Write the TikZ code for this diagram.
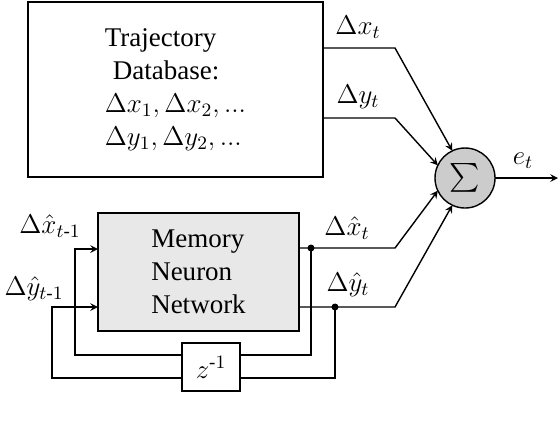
\documentclass[tikz,border=0pt]{standalone}
\usepackage{fix-cm}
\usepackage{amsmath}
\usepackage{fontspec}
\setmainfont{Liberation Serif}
\usetikzlibrary{arrows}
\usetikzlibrary{shapes}

\begin{document}
\begin{tikzpicture}[x=0.5pt, y=-0.5pt, >=stealth, line width=0.7pt,
    font=\fontsize{13.5}{16.5}\selectfont, lbl/.style={inner sep=0.5pt}]
    \useasboundingbox (0,0) rectangle (560,420);

    \node [draw, inner sep=0pt, outer sep=0pt, minimum width=147.5pt, minimum height=87.5pt, align=left] (traj) at (175.5,89.5)
        {Trajectory\\ \hspace*{4pt}Database:\\ $\Delta x_1, \Delta x_2, ...$\\ $\Delta y_1, \Delta y_2, ...$};
    \node [draw, fill=black!9, inner sep=0pt, outer sep=0pt, minimum width=100.5pt, minimum height=59pt, align=left] (mnn) at (198.5,272)
        {Memory\\ Neuron\\ Network};
    \node [draw, fill=black!20, circle, inner sep=0pt, outer sep=0pt, minimum size=30pt] (sum) at (465,178) {$\sum$};

    \coordinate (xdot) at (311,248);
    \coordinate (ydot) at (335,307);

    % database outputs
    \draw [->] (traj.east |- 0,48) -- (395,48) -- (sum.115);
    \draw [->] (traj.east |- 0,118) -- (395,118) -- (sum.155);
    % network outputs
    \draw [->] (mnn.east |- xdot) -- (395,248) -- (sum.205);
    \draw [->] (mnn.east |- ydot) -- (395,307) -- (sum.245);
    \draw [->] (sum.east) -- (558,178);

    % feedback through the delay
    \draw [->] (xdot) -- (311,355) -- (75,355) -- (75,249) -- (mnn.west |- 0,249);
    \draw [->] (ydot) -- (335,378) -- (52,378) -- (52,307) -- (mnn.west |- 0,307);
    \fill (xdot) circle (1.75pt);
    \fill (ydot) circle (1.75pt);

    \node [draw, fill=white, inner sep=0pt, minimum width=29pt, minimum height=24pt] (delay) at (211,367) {$z^{\text{-}1}$};

    \node [lbl] (dxt) at (358,27) {$\Delta x_t$};
    \node [lbl] (dyt) at (358,97) {$\Delta y_t$};
    \node [lbl] (dxhat) at (347,228) {$\Delta\hat{x}_t$};
    \node [lbl] (dyhat) at (348,285) {$\Delta\hat{y}_t$};
    \node [lbl] (et) at (523,161) {$e_t$};
    \node [lbl] (dxprev) at (50,226) {$\Delta\hat{x}_{t\text{-}1}$};
    \node [lbl] (dyprev) at (34,289) {$\Delta\hat{y}_{t\text{-}1}$};
\end{tikzpicture}
\end{document}
